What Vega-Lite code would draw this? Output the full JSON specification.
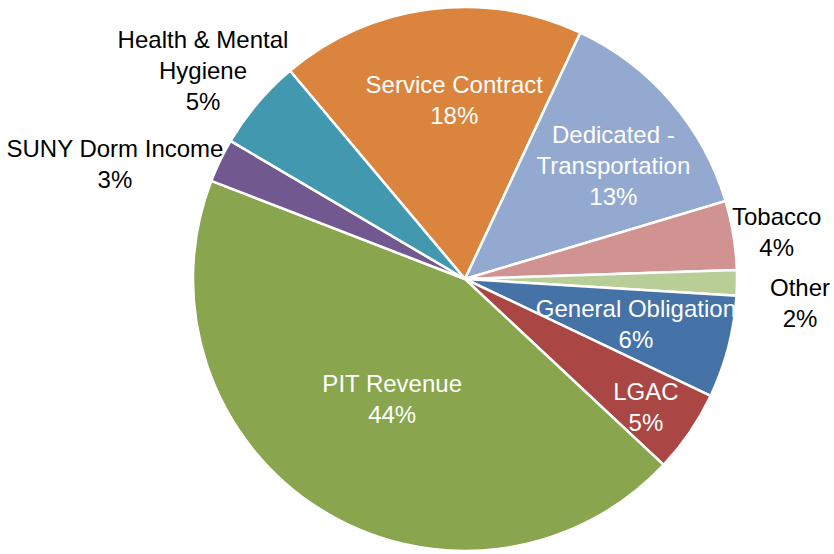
{
  "$schema": "https://vega.github.io/schema/vega-lite/v6.json",
  "width": 544,
  "height": 544,
  "padding": {"left": 193, "top": 7, "right": 97, "bottom": 3},
  "autosize": {"type": "none"},
  "background": "white",
  "config": {"view": {"stroke": null}},
  "data": {
    "values": [
      {"name": "Service Contract", "label": "Service Contract", "share": 18.1},
      {"name": "Dedicated - Transportation", "label": "Dedicated -\nTransportation", "share": 13.4},
      {"name": "Tobacco", "label": "Tobacco", "share": 4.1},
      {"name": "Other", "label": "Other", "share": 1.5},
      {"name": "General Obligation", "label": "General Obligation", "share": 6.1},
      {"name": "LGAC", "label": "LGAC", "share": 4.9},
      {"name": "PIT Revenue", "label": "PIT Revenue", "share": 43.9},
      {"name": "SUNY Dorm Income", "label": "SUNY Dorm Income", "share": 2.6},
      {"name": "Health & Mental Hygiene", "label": "Health & Mental\nHygiene", "share": 5.4}
    ]
  },
  "transform": [
    {"window": [{"op": "row_number", "as": "idx"}]},
    {"calculate": "datum.label + '\\n' + format(datum.share / 100, '.0%')", "as": "text"}
  ],
  "encoding": {
    "theta": {"field": "share", "type": "quantitative", "stack": true, "scale": {"range": [-0.699, 5.584]}},
    "order": {"field": "idx", "type": "quantitative"}
  },
  "layer": [
    {
      "mark": {"type": "arc", "stroke": "white", "strokeWidth": 2.5},
      "encoding": {
        "color": {
          "field": "name",
          "type": "nominal",
          "legend": null,
          "scale": {
            "domain": ["Service Contract", "Dedicated - Transportation", "Tobacco", "Other", "General Obligation", "LGAC", "PIT Revenue", "SUNY Dorm Income", "Health & Mental Hygiene"],
            "range": ["#DB843D", "#93A9CF", "#D19392", "#B9CD96", "#4572A7", "#AA4643", "#89A54E", "#71588F", "#4198AF"]
          }
        }
      }
    },
    {
      "mark": {"type": "text", "radius": 178, "thetaOffset": 0.07, "dy": -15, "font": "Liberation Sans", "fontSize": 24, "lineHeight": 31, "lineBreak": "\n", "align": "center", "baseline": "middle", "fill": "white"},
      "encoding": {"text": {"condition": {"test": "datum.name === 'Service Contract'", "field": "text"}, "value": ""}}
    },
    {
      "mark": {"type": "text", "radius": 186, "thetaOffset": 0.064, "dy": -31, "font": "Liberation Sans", "fontSize": 24, "lineHeight": 31, "lineBreak": "\n", "align": "center", "baseline": "middle", "fill": "white"},
      "encoding": {"text": {"condition": {"test": "datum.name === 'Dedicated - Transportation'", "field": "text"}, "value": ""}}
    },
    {
      "mark": {"type": "text", "radius": 177, "thetaOffset": 0.01, "dy": -15, "font": "Liberation Sans", "fontSize": 24, "lineHeight": 31, "lineBreak": "\n", "align": "center", "baseline": "middle", "fill": "white"},
      "encoding": {"text": {"condition": {"test": "datum.name === 'General Obligation'", "field": "text"}, "value": ""}}
    },
    {
      "mark": {"type": "text", "radius": 222, "thetaOffset": 0.02, "dy": -15, "font": "Liberation Sans", "fontSize": 24, "lineHeight": 31, "lineBreak": "\n", "align": "center", "baseline": "middle", "fill": "white"},
      "encoding": {"text": {"condition": {"test": "datum.name === 'LGAC'", "field": "text"}, "value": ""}}
    },
    {
      "mark": {"type": "text", "radius": 141, "thetaOffset": -0.018, "dy": -15, "font": "Liberation Sans", "fontSize": 24, "lineHeight": 31, "lineBreak": "\n", "align": "center", "baseline": "middle", "fill": "white"},
      "encoding": {"text": {"condition": {"test": "datum.name === 'PIT Revenue'", "field": "text"}, "value": ""}}
    },
    {
      "mark": {"type": "text", "radius": 315, "thetaOffset": 0.016, "dy": -15, "font": "Liberation Sans", "fontSize": 24, "lineHeight": 31, "lineBreak": "\n", "align": "center", "baseline": "middle", "fill": "black"},
      "encoding": {"text": {"condition": {"test": "datum.name === 'Tobacco'", "field": "text"}, "value": ""}}
    },
    {
      "mark": {"type": "text", "radius": 336, "thetaOffset": 0.061, "dy": -15, "font": "Liberation Sans", "fontSize": 24, "lineHeight": 31, "lineBreak": "\n", "align": "center", "baseline": "middle", "fill": "black"},
      "encoding": {"text": {"condition": {"test": "datum.name === 'Other'", "field": "text"}, "value": ""}}
    },
    {
      "mark": {"type": "text", "radius": 368, "thetaOffset": -0.137, "dy": -15, "font": "Liberation Sans", "fontSize": 24, "lineHeight": 31, "lineBreak": "\n", "align": "center", "baseline": "middle", "fill": "black"},
      "encoding": {"text": {"condition": {"test": "datum.name === 'SUNY Dorm Income'", "field": "text"}, "value": ""}}
    },
    {
      "mark": {"type": "text", "radius": 334, "thetaOffset": -0.033, "dy": -31, "font": "Liberation Sans", "fontSize": 24, "lineHeight": 31, "lineBreak": "\n", "align": "center", "baseline": "middle", "fill": "black"},
      "encoding": {"text": {"condition": {"test": "datum.name === 'Health & Mental Hygiene'", "field": "text"}, "value": ""}}
    }
  ]
}
